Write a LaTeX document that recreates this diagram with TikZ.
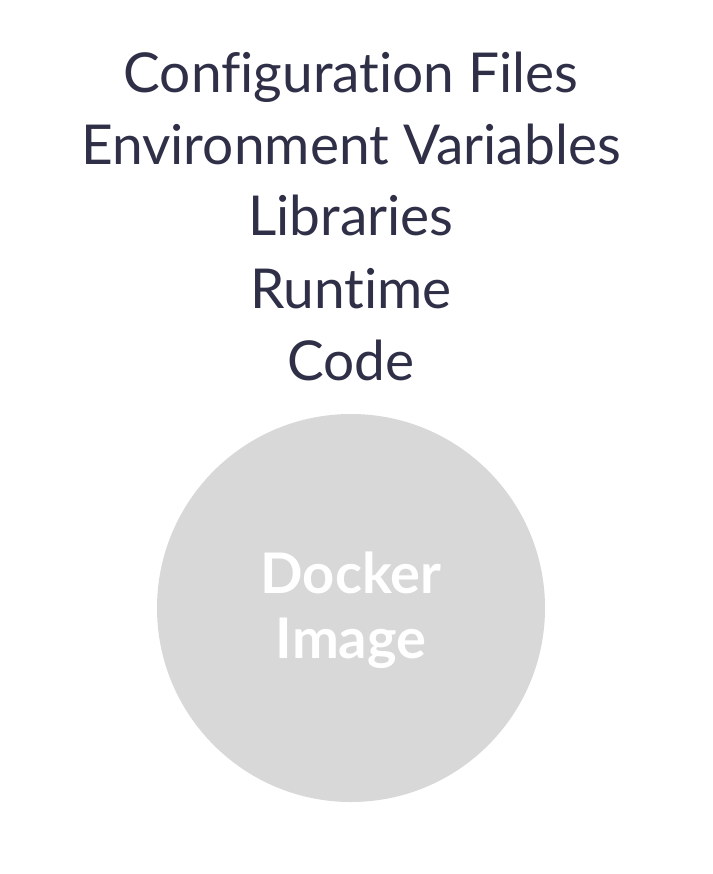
\documentclass[tikz,border=0pt]{standalone}
\usepackage{fontspec}
\setmainfont{Lato}[Ligatures=NoCommon]
\usetikzlibrary{positioning}

\definecolor{layerink}{HTML}{2F3048}
\definecolor{imagegray}{HTML}{D8D8D8}

\begin{document}
\begin{tikzpicture}[x=1pt, y=-1pt,
    layer/.style={draw=none, text=layerink, inner sep=0pt, anchor=base,
          font=\fontsize{55}{66}\selectfont},
    imagetext/.style={draw=none, text=white, inner sep=0pt, anchor=base,
          font=\bfseries\fontsize{56}{66}\selectfont}]
   \useasboundingbox (0,0) rectangle (712,874);
   \fill[white] (0,0) rectangle (712,874);

   % the layers, top to bottom
   \node[layer] (config) at (351,93) {Configuration Files};
   \node[layer] (env) at (351,165) {Environment Variables};
   \node[layer] (libs) at (351,236) {Libraries};
   \node[layer] (runtime) at (351,308) {Runtime};
   \node[layer] (code) at (351,380) {Code};

   % the image
   \node[circle,
          fill=imagegray,
          minimum size=388pt,
          inner sep=0pt] (image) at (351,608) {};
   \node[imagetext] (docker) at (351,593) {Docker};
   \node[imagetext] (img) at (351,658) {Image};
\end{tikzpicture}
\end{document}
